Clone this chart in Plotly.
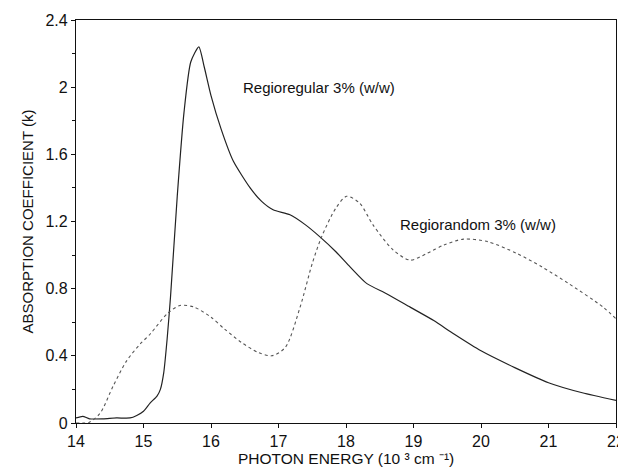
import plotly.graph_objects as go

# Regioregular 3% (w/w) - solid curve
rr_x = [14.0, 14.1, 14.2, 14.4, 14.6, 14.8, 14.9, 15.0, 15.1, 15.2, 15.25, 15.3, 15.35, 15.4, 15.5, 15.6, 15.7, 15.82,
        15.9, 16.0, 16.15, 16.33, 16.58, 16.75, 16.92, 17.17, 17.4, 17.61, 17.85, 18.06, 18.31, 18.6, 18.95,
        19.3, 19.6, 20.0, 20.5, 21.0, 21.5, 22.0]
rr_y = [0.03, 0.04, 0.025, 0.025, 0.03, 0.03, 0.045, 0.07, 0.12, 0.16, 0.2, 0.3, 0.5, 0.75, 1.35, 1.85, 2.15, 2.24,
        2.12, 1.95, 1.75, 1.56, 1.40, 1.32, 1.27, 1.24, 1.18, 1.11, 1.02, 0.93, 0.83, 0.77, 0.69,
        0.61, 0.53, 0.43, 0.33, 0.24, 0.18, 0.135]

# Regiorandom 3% (w/w) - dotted curve
rd_x = [14.0, 14.2, 14.36, 14.55, 14.75, 14.95, 15.1, 15.35, 15.54, 15.75, 16.0, 16.2, 16.45, 16.7, 16.9,
        17.1, 17.32, 17.5, 17.64, 17.85, 18.01, 18.2, 18.4, 18.7, 18.95, 19.2, 19.45, 19.74, 20.1,
        20.53, 20.9, 21.3, 21.81, 22.0]
rd_y = [0.0, 0.005, 0.06, 0.22, 0.37, 0.47, 0.53, 0.65, 0.70, 0.69, 0.63, 0.56, 0.48, 0.42, 0.40,
        0.45, 0.69, 0.95, 1.11, 1.28, 1.35, 1.31, 1.18, 1.03, 0.97, 1.01, 1.06, 1.095, 1.08,
        1.01, 0.93, 0.83, 0.69, 0.62]

y_ticks = [0, 0.4, 0.8, 1.2, 1.6, 2.0, 2.4]
y_labels = ["0", "0.4", "0.8", "1.2", "1.6", "2", "2.4"]
x_ticks = [14, 15, 16, 17, 18, 19, 20, 21, 22]

fig = go.Figure()
fig.add_trace(go.Scatter(x=rr_x, y=rr_y, mode="lines", line=dict(color="#222", width=1.2, shape="spline", smoothing=0.6),
                         showlegend=False))
fig.add_trace(go.Scatter(x=rd_x, y=rd_y, mode="lines", line=dict(color="#555", width=1.1, dash="dot", shape="spline", smoothing=0.8),
                         showlegend=False))

fig.add_annotation(x=16.44, y=2.0, text="Regioregular 3% (w/w)", showarrow=False, xanchor="left",
                   font=dict(size=15, color="#111"))
fig.add_annotation(x=18.77, y=1.18, text="Regiorandom 3% (w/w)", showarrow=False, xanchor="left",
                   font=dict(size=15, color="#111"))
# x-axis title
fig.add_annotation(x=0.5, y=0, xref="paper", yref="paper", yanchor="top", yshift=-25,
                   text="PHOTON ENERGY (10 ³ cm ⁻¹)", showarrow=False,
                   font=dict(size=15.5, color="#111"))

axis_common = dict(showline=True, linecolor="#111", linewidth=1.2, mirror=True, showgrid=False, zeroline=False,
                   ticks="outside", ticklen=4, tickcolor="#111", tickfont=dict(size=16, color="#111"),
                   automargin=False)
fig.update_xaxes(range=[14, 22], tickvals=x_ticks, **axis_common)
fig.update_yaxes(range=[0, 2.4], tickvals=y_ticks, ticktext=y_labels,
                 title=dict(text="ABSORPTION COEFFICIENT (k)", font=dict(size=15, color="#111"), standoff=8),
                 minor=dict(ticks="outside", ticklen=3, tickcolor="#111", dtick=0.2), **axis_common)

# page body has an 8px margin, so the figure is sized to fit the 626x469 window
fig.update_layout(width=618, height=461, margin=dict(l=68, r=10, t=12, b=46),
                  paper_bgcolor="white", plot_bgcolor="white",
                  font=dict(family="Liberation Sans, Arial, sans-serif", color="#111"))

fig.write_html("out.html")
